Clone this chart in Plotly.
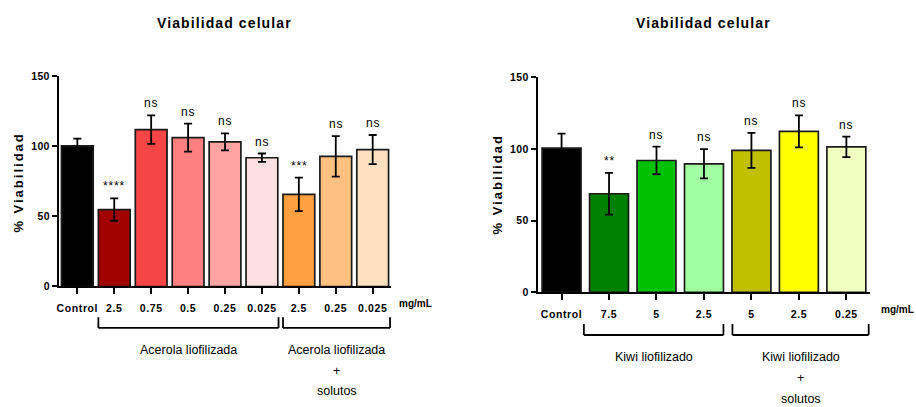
import plotly.graph_objects as go

# ---------------- data ----------------
left_categories = ["Control", "2.5", "0.75", "0.5", "0.25", "0.025", "2.5", "0.25", "0.025"]
left_values = [100.2, 54.8, 111.7, 106.0, 103.0, 91.7, 65.6, 92.7, 97.5]
left_errors = [5.1, 8.0, 10.1, 10.0, 6.0, 3.0, 11.9, 14.4, 10.4]
left_signif = ["", "****", "ns", "ns", "ns", "ns", "***", "ns", "ns"]
left_colors = ["#000000", "#A00000", "#F54545", "#FF8080", "#FFA3A3", "#FFE0E0",
               "#FFA040", "#FFC080", "#FFE0C0"]
left_groups = ["Acerola liofilizada", "Acerola liofilizada", "+", "solutos"]

right_categories = ["Control", "7.5", "5", "2.5", "5", "2.5", "0.25"]
right_values = [100.5, 68.7, 91.9, 89.6, 98.9, 112.2, 101.4]
right_errors = [10.1, 14.6, 9.6, 10.2, 12.2, 11.1, 7.1]
right_signif = ["", "**", "ns", "ns", "ns", "ns", "ns"]
right_colors = ["#000000", "#008000", "#00C000", "#A0FFA0", "#C0C000", "#FFFF00", "#F0FFC0"]
right_groups = ["Kiwi liofilizado", "Kiwi liofilizado", "+", "solutos"]

y_ticks = [0, 50, 100, 150]
title_text = "Viabilidad celular"
ylabel_text = "% Viabilidad"
unit_text = "mg/mL"

W, H = 916, 407
FONT = "Liberation Sans, Arial, sans-serif"


def sp(t, s):
    if s == 0:
        return t
    return '<span style="letter-spacing:%spx">%s</span>' % (s, t)


def px(x):
    return x / W


def py(y):
    return (H - y) / H


fig = go.Figure()

panels = [
    dict(cats=left_categories, vals=left_values, errs=left_errors, sig=left_signif,
         cols=left_colors, groups=left_groups, xa="x", ya="y",
         xdom=[px(57), px(390)], ydom=[py(289), py(72)], width=0.86,
         brackets=[(0.57, 5.45), (5.57, 8.47)], br_y=(320.7, 331.7),
         grp_y=[354, 354, 375.7, 397], title_x=223, ylab_x=17, ylab_y=182,
         unit_x=414, unit_y=307),
    dict(cats=right_categories, vals=right_values, errs=right_errors, sig=right_signif,
         cols=right_colors, groups=right_groups, xa="x2", ya="y2",
         xdom=[px(537), px(870)], ydom=[py(295), py(73.3)], width=0.82,
         brackets=[(0.47, 3.41), (3.60, 6.47)], br_y=(327.7, 339),
         grp_y=[361.7, 361.7, 383, 405], title_x=703, ylab_x=497, ylab_y=184,
         unit_x=897, unit_y=313),
]

annotations = []
shapes = []
for k, p in enumerate(panels):
    n = len(p["cats"])
    xs = list(range(n))
    fig.add_trace(go.Bar(
        x=xs, y=p["vals"], width=p["width"],
        marker=dict(color=p["cols"], line=dict(color="#1a1a1a", width=1.7)),
        error_y=dict(type="data", array=p["errs"], visible=True,
                     color="#000000", thickness=1.8, width=4),
        xaxis=p["xa"], yaxis=p["ya"], showlegend=False, hoverinfo="skip",
    ))
    axn = "" if k == 0 else "2"
    fig.layout["xaxis" + axn] = dict(
        domain=p["xdom"], range=[-0.5, n - 0.5], anchor=p["ya"],
        showline=True, linecolor="#000", linewidth=1.8, ticks="outside",
        ticklen=6, tickwidth=1.8, tickcolor="#000", showgrid=False, zeroline=False,
        tickmode="array", tickvals=xs, ticktext=[sp(c, 0.6) for c in p["cats"]],
        tickfont=dict(family=FONT, size=10.5, color="#000", weight="bold"),
        tickangle=0, ticklabelstandoff=5, fixedrange=True,
    )
    fig.layout["yaxis" + axn] = dict(
        domain=p["ydom"], range=[0, 150], anchor=p["xa"],
        showline=True, linecolor="#000", linewidth=1.8, ticks="outside",
        ticklen=5, tickwidth=1.8, tickcolor="#000", showgrid=False, zeroline=False,
        tickmode="array", tickvals=y_ticks, ticktext=[sp(str(v), 0.4) for v in y_ticks],
        tickfont=dict(family=FONT, size=10.5, color="#000", weight="bold"),
        fixedrange=True,
    )
    # significance labels
    for i, s in enumerate(p["sig"]):
        if s:
            annotations.append(dict(
                x=i, y=p["vals"][i] + p["errs"][i], xref=p["xa"], yref=p["ya"],
                text=sp(s, 0.8), showarrow=False, yanchor="bottom", yshift=3,
                font=dict(family=FONT, size=12, color="#000")))
    # brackets
    for (a, b) in p["brackets"]:
        fa, fb = (a + 0.5) / n, (b + 0.5) / n
        y0, y1 = py(p["br_y"][0]), py(p["br_y"][1])
        for (xx0, xx1, yy0, yy1) in [(fa, fa, y0, y1), (fa, fb, y1, y1), (fb, fb, y1, y0)]:
            shapes.append(dict(type="line", xref=p["xa"] + " domain", yref="paper",
                               x0=xx0, x1=xx1, y0=yy0, y1=yy1,
                               line=dict(color="#000", width=1.8)))
    # group labels
    (a1, b1), (a2, b2) = p["brackets"]
    gx = [(a1 + b1) / 2, (a2 + b2) / 2, (a2 + b2) / 2, (a2 + b2) / 2]
    for t, xg, yg in zip(p["groups"], gx, p["grp_y"]):
        annotations.append(dict(
            x=(xg + 0.5) / n, y=py(yg), xref=p["xa"] + " domain", yref="paper",
            text=t, showarrow=False, xanchor="center", yanchor="middle",
            font=dict(family=FONT, size=12.5, color="#000")))
    # title
    annotations.append(dict(
        x=px(p["title_x"]), y=py(18), xref="paper", yref="paper",
        text=sp(title_text, 1.1), showarrow=False, xanchor="center", yanchor="middle",
        font=dict(family=FONT, size=14, color="#000", weight="bold")))
    # y label
    annotations.append(dict(
        x=px(p["ylab_x"]), y=py(p["ylab_y"]), xref="paper", yref="paper",
        text=sp(ylabel_text, 2), showarrow=False, textangle=-90,
        xanchor="center", yanchor="middle",
        font=dict(family=FONT, size=13, color="#000", weight="bold")))
    # unit
    annotations.append(dict(
        x=px(p["unit_x"]), y=py(p["unit_y"]), xref="paper", yref="paper",
        text=unit_text, showarrow=False, xanchor="center", yanchor="middle",
        font=dict(family=FONT, size=10, color="#000", weight="bold")))

fig.update_layout(
    width=W, height=H, margin=dict(l=0, r=0, t=0, b=0),
    paper_bgcolor="#FFFFFF", plot_bgcolor="#FFFFFF",
    annotations=annotations, shapes=shapes, bargap=0.14,
)

fig.write_html("out.html", config={"displayModeBar": False})
